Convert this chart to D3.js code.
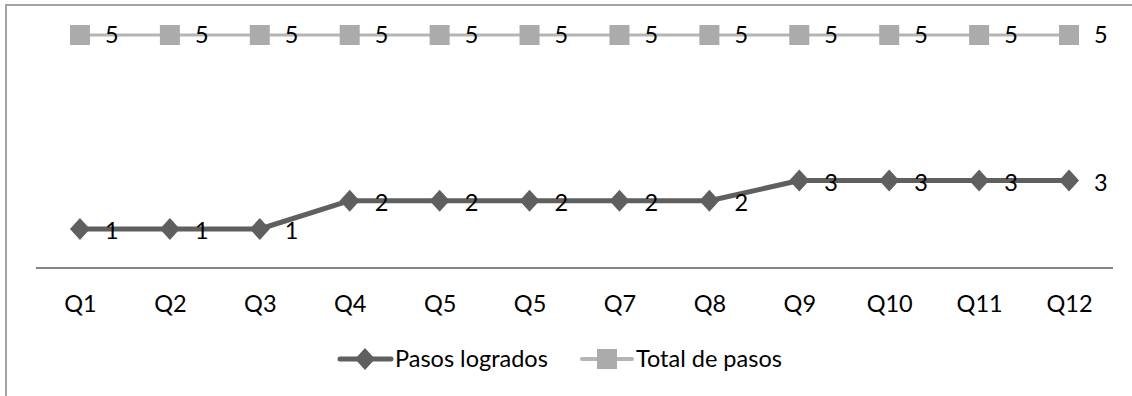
<!DOCTYPE html>
<html>
<head>
<meta charset="utf-8">
<script src="https://cdn.jsdelivr.net/npm/d3@7"></script>
<style>
  html, body { margin: 0; padding: 0; background: #fff; }
  svg { display: block; }
  text { font-family: Lato, "Liberation Sans", sans-serif; fill: #000; }
</style>
</head>
<body>
<svg id="chart" width="1132" height="396"></svg>
<script>
// Quarterly progress: steps achieved vs. total steps
const categories = ["Q1", "Q2", "Q3", "Q4", "Q5", "Q5", "Q7", "Q8", "Q9", "Q10", "Q11", "Q12"];
const pasosLogrados = [1, 1, 1, 2, 2, 2, 2, 2, 3, 3, 3, 3];
const totalPasos = [5, 5, 5, 5, 5, 5, 5, 5, 5, 5, 5, 5];
const seriesNames = ["Pasos logrados", "Total de pasos"];

const svg = d3.select("#chart");
const W = 1132, H = 396;

// Outer chart frame (runs off the right and bottom edges)
svg.append("rect")
  .attr("x", 6).attr("y", 5)
  .attr("width", W + 20).attr("height", H + 20)
  .attr("fill", "none").attr("stroke", "#a3a3a3").attr("stroke-width", 2);

// Category positions (index based, since labels repeat)
const x = d3.scalePoint()
  .domain(d3.range(categories.length))
  .range([35, 1114])
  .padding(0.5);

// Primary value axis for steps achieved (non-linear), secondary for total
const yMain = d3.scalePow().exponent(0.37).domain([1, 3]).range([229, 180.5]);
const yTotal = d3.scaleLinear().domain([0, 5]).range([268, 35]);

// Category axis
const xAxis = d3.axisBottom(x)
  .tickSize(0)
  .tickPadding(0)
  .tickFormat(i => categories[i]);

const gx = svg.append("g").attr("transform", "translate(0,268)").call(xAxis);
gx.select(".domain").attr("stroke", "#868686").attr("stroke-width", 2)
  .attr("d", "M36,0H1113");
gx.selectAll(".tick text")
  .attr("y", 44).attr("dy", null)
  .style("font-size", "23.5px")
  .style("font-family", "Lato, 'Liberation Sans', sans-serif")
  .attr("fill", "#000");

// Total de pasos: light line with square markers
const lineTotal = d3.line().x((d, i) => x(i)).y(d => yTotal(d));
svg.append("path").datum(totalPasos)
  .attr("d", lineTotal)
  .attr("fill", "none").attr("stroke", "#b5b5b5").attr("stroke-width", 3);
svg.selectAll(".sq").data(totalPasos).join("rect")
  .attr("class", "sq")
  .attr("x", (d, i) => x(i) - 10).attr("y", d => yTotal(d) - 10)
  .attr("width", 20).attr("height", 20)
  .attr("fill", "#ababab");
svg.selectAll(".lblTotal").data(totalPasos).join("text")
  .attr("class", "lblTotal")
  .attr("x", (d, i) => x(i) + 25).attr("y", d => yTotal(d))
  .attr("dy", "0.36em")
  .style("font-size", "23.5px")
  .text(d => d);

// Pasos logrados: dark line with diamond markers
const lineMain = d3.line().x((d, i) => x(i)).y(d => yMain(d));
svg.append("path").datum(pasosLogrados)
  .attr("d", lineMain)
  .attr("fill", "none").attr("stroke", "#5f5f5f").attr("stroke-width", 5)
  .attr("stroke-linejoin", "round");
const diamond = "M0,-11L10,0L0,11L-10,0Z";
svg.selectAll(".dm").data(pasosLogrados).join("path")
  .attr("class", "dm")
  .attr("transform", (d, i) => `translate(${x(i)},${yMain(d)})`)
  .attr("d", diamond)
  .attr("fill", "#5f5f5f");
svg.selectAll(".lblMain").data(pasosLogrados).join("text")
  .attr("class", "lblMain")
  .attr("x", (d, i) => x(i) + 25).attr("y", d => yMain(d) + 2)
  .attr("dy", "0.36em")
  .style("font-size", "23.5px")
  .text(d => d);

// Legend
const legend = svg.append("g");
const lg1 = legend.append("g");
lg1.append("line").attr("x1", 340).attr("x2", 391).attr("y1", 359).attr("y2", 359)
  .attr("stroke", "#5f5f5f").attr("stroke-width", 5).attr("stroke-linecap", "round");
lg1.append("path").attr("transform", "translate(365,359)").attr("d", diamond).attr("fill", "#5f5f5f");
lg1.append("text").attr("x", 395).attr("y", 359).attr("dy", "0.36em")
  .style("font-size", "23.5px").text(seriesNames[0]);

const lg2 = legend.append("g");
lg2.append("line").attr("x1", 582).attr("x2", 632).attr("y1", 359).attr("y2", 359)
  .attr("stroke", "#b5b5b5").attr("stroke-width", 4).attr("stroke-linecap", "round");
lg2.append("rect").attr("x", 597).attr("y", 349).attr("width", 20).attr("height", 20).attr("fill", "#ababab");
lg2.append("text").attr("x", 636).attr("y", 359).attr("dy", "0.36em")
  .style("font-size", "23.5px").text(seriesNames[1]);
</script>
</body>
</html>
